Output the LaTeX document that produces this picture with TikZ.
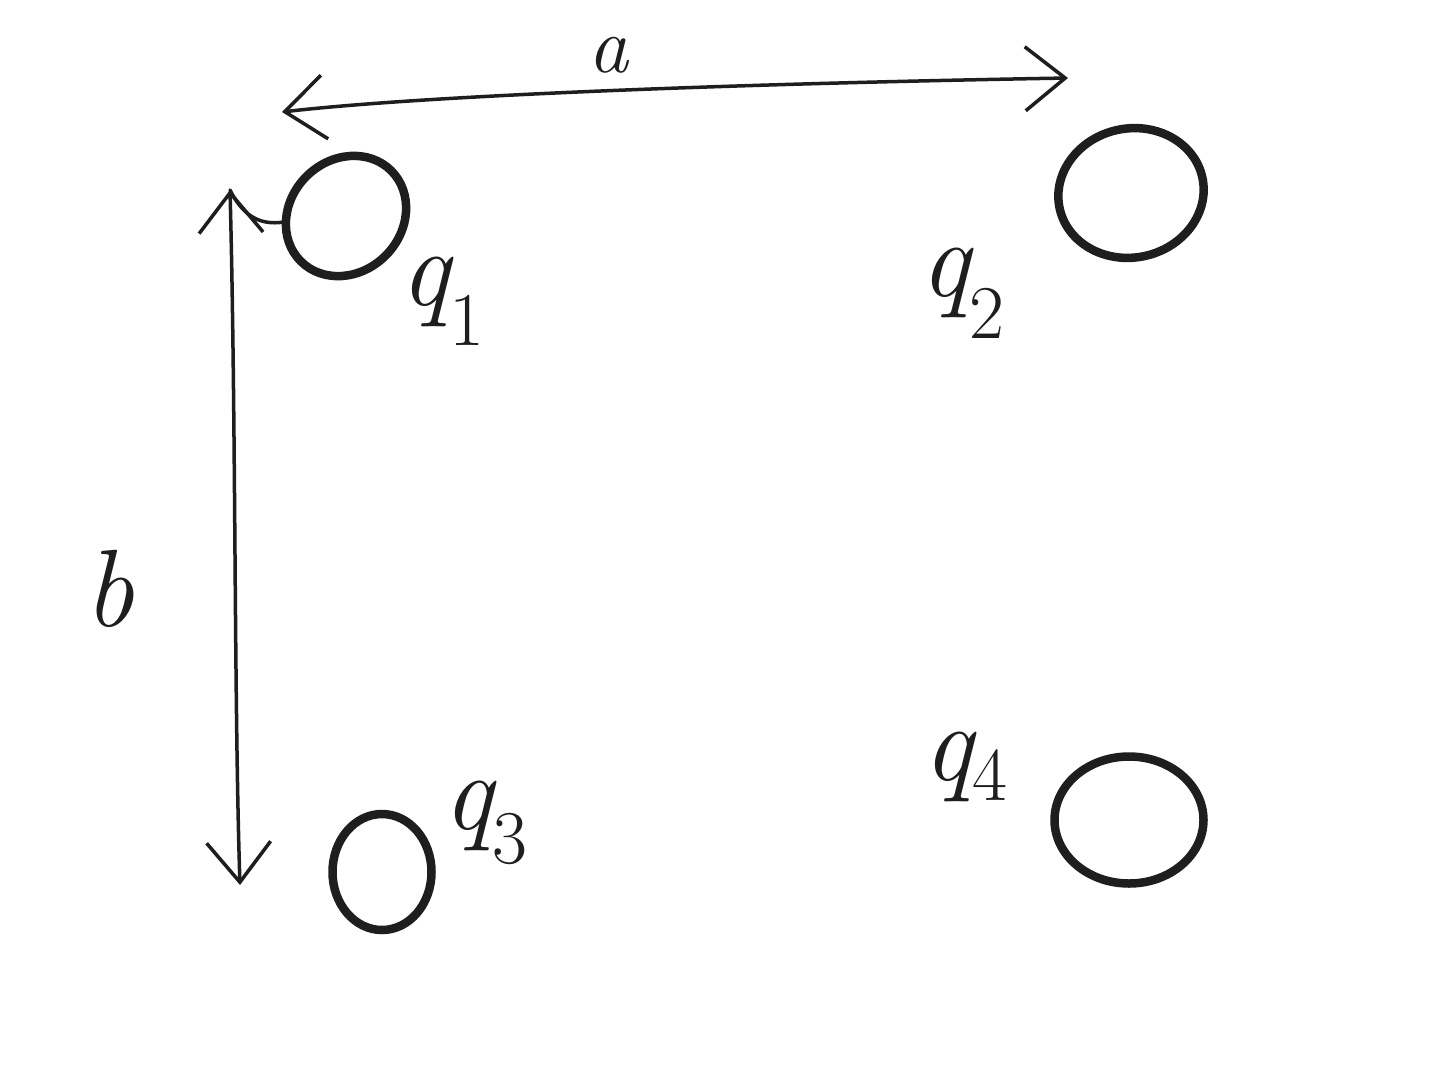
\documentclass[tikz,border=0pt]{standalone}
\usepackage{fontspec}
\usetikzlibrary{arrows.meta,shapes.geometric}
\definecolor{ink}{RGB}{30,30,32}
\newcommand{\qlab}[2]{{\itshape q}\raisebox{-#2}{\fontsize{76}{76}\selectfont #1}}
\tikzset{
  state/.style={draw=ink, ellipse, line width=8.5pt, inner sep=0pt},
  barb/.tip={Straight Barb[length=40pt,width=64pt]},
  edge/.style={draw=ink, line width=3.5pt, line cap=round, barb-barb},
  lab/.style={text=ink, inner sep=0pt, anchor=base west, font=\fontsize{110}{110}\selectfont},
  small/.style={text=ink, inner sep=0pt, anchor=base west, font=\fontsize{80}{80}\selectfont\itshape}
}
\begin{document}
\begin{tikzpicture}[x=1pt,y=-1pt]
\useasboundingbox[fill=white] (0,0) rectangle (1453,1071);
% states
\node[state, minimum width=128, minimum height=112, rotate=45] (q1) at (346,216) {};
\node[state, minimum width=146, minimum height=129, rotate=12] (q2) at (1131,193) {};
\node[state, minimum width=99, minimum height=116] (q3) at (382,872) {};
\node[state, minimum width=149, minimum height=127] (q4) at (1129,820) {};
% labels
\node[lab] (l1) at (400,305) {\qlab{1}{40pt}};
\node[lab] (l2) at (920,296) {\qlab{2}{42pt}};
\node[lab] (l3) at (443,829) {\qlab{3}{34pt}};
\node[lab] (l4) at (923,780) {\qlab{4}{20pt}};
% arrow a
\coordinate (a1) at (282,112);
\coordinate (a2) at (1068,78);
\draw[edge] (a1) .. controls (420,96) and (720,84) .. (a2);
\node[small] (la) at (588,72) {a};
% arrow b
\coordinate (b1) at (230,190);
\coordinate (b2) at (240,885);
\coordinate (q1w) at (284,222);
\draw[edge] (b1) .. controls (236,420) and (234,700) .. (b2);
\draw[ink, line width=3.5pt, line cap=round] (q1w) .. controls (258,226) and (242,214) .. (b1);
\node[lab, font=\fontsize{110}{110}\selectfont\itshape] (lb) at (84,626) {b};
\end{tikzpicture}
\end{document}
